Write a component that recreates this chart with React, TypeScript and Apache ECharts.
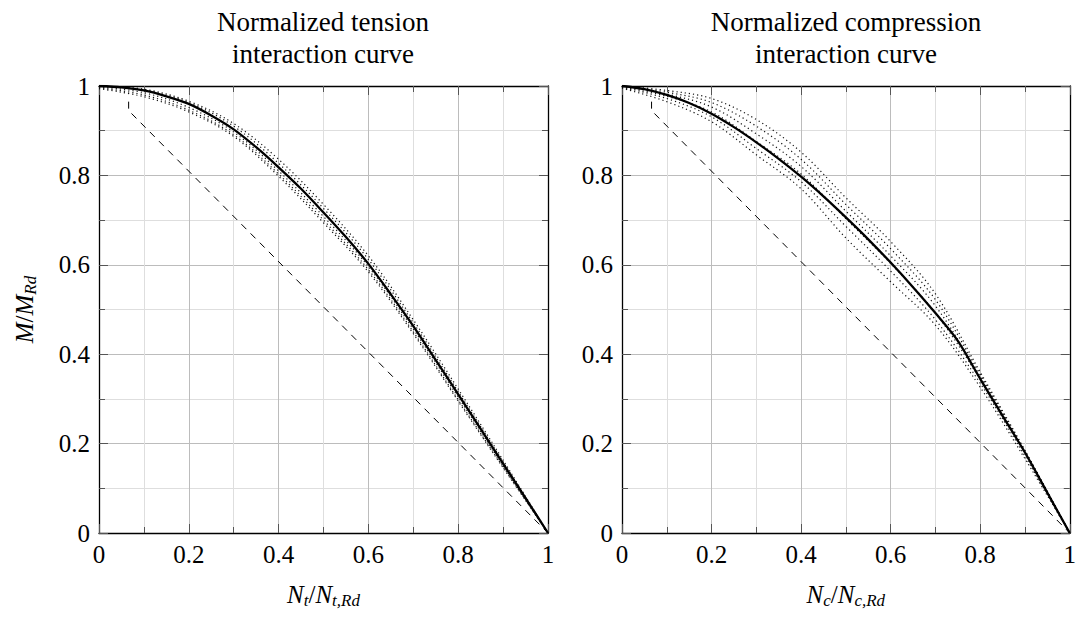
import { useEffect, useRef } from 'react';
import * as echarts from 'echarts';

// ---------- data ----------
const xFine = [0, 0.05, 0.1, 0.15, 0.2, 0.25, 0.3, 0.35, 0.4, 0.45, 0.5, 0.55, 0.6, 0.65, 0.7, 0.75, 0.8, 0.85, 0.9, 0.95, 1];
const xCoarse = [0, 0.1, 0.2, 0.3, 0.4, 0.5, 0.6, 0.7, 0.8, 0.9, 1];

const tensionSolid = [1, 0.997, 0.99, 0.977, 0.96, 0.934, 0.903, 0.863, 0.818, 0.77, 0.717, 0.662, 0.602, 0.534, 0.463, 0.387, 0.31, 0.233, 0.155, 0.078, 0];
const compressionSolid = [1, 0.993, 0.98, 0.962, 0.938, 0.908, 0.874, 0.837, 0.797, 0.753, 0.706, 0.657, 0.605, 0.55, 0.492, 0.43, 0.345, 0.262, 0.18, 0.09, 0];

const tensionDotA = [1, 0.993, 0.966, 0.916, 0.836, 0.735, 0.62, 0.477, 0.322, 0.163, 0];
const tensionDotB = [1, 0.991, 0.963, 0.91, 0.827, 0.726, 0.612, 0.47, 0.316, 0.159, 0];
const tensionDotC = [0.998, 0.985, 0.952, 0.897, 0.81, 0.708, 0.596, 0.456, 0.304, 0.151, 0];
const tensionDotD = [0.996, 0.98, 0.946, 0.891, 0.803, 0.7, 0.589, 0.45, 0.298, 0.148, 0];
const tensionDotE = [0.994, 0.976, 0.942, 0.887, 0.798, 0.694, 0.584, 0.446, 0.295, 0.146, 0];

const compDotA = [1, 0.99, 0.972, 0.925, 0.852, 0.75, 0.652, 0.535, 0.36, 0.185, 0];
const compDotB = [1, 0.986, 0.963, 0.91, 0.836, 0.735, 0.636, 0.522, 0.355, 0.183, 0];
const compDotC = [1, 0.982, 0.953, 0.893, 0.82, 0.72, 0.62, 0.508, 0.35, 0.181, 0];
const compDotD = [0.998, 0.977, 0.942, 0.876, 0.803, 0.703, 0.603, 0.492, 0.344, 0.178, 0];
const compDotE = [0.997, 0.972, 0.931, 0.86, 0.786, 0.686, 0.586, 0.477, 0.335, 0.172, 0];
const compDotF = [0.995, 0.965, 0.92, 0.846, 0.77, 0.66, 0.562, 0.465, 0.326, 0.166, 0];

const dashedX = [0.066, 0.066, 1];
const dashedY = [0.965, 0.945, 0];

const titles = ['Normalized tension\ninteraction curve', 'Normalized compression\ninteraction curve'];
const xNames = ['{i|N}{s|t}{r|/}{i|N}{s|t,Rd}', '{i|N}{s|c}{r|/}{i|N}{s|c,Rd}'];
const yName = '{i|M}{r|/}{i|M}{s|Rd}';

// ---------- styling ----------
const FONT = '"Liberation Serif", serif';
const rich = {
  i: { fontFamily: FONT, fontStyle: 'italic', fontSize: 25, color: '#000', lineHeight: 30 },
  r: { fontFamily: FONT, fontSize: 25, color: '#000', lineHeight: 30 },
  s: { fontFamily: FONT, fontStyle: 'italic', fontSize: 17, color: '#000', lineHeight: 17, padding: [13, 0, 0, 0] },
};

const pairs = (xs: number[], ys: number[]) => xs.map((x, k) => [x, ys[k]]);

function baseAxis(gridIndex: number, position: string, labels: boolean, extra: any = {}) {
  return {
    type: 'value',
    gridIndex,
    position,
    min: 0,
    max: 1,
    interval: 0.2,
    axisLine: { show: true, onZero: false, lineStyle: { color: '#000', width: 1.3 } },
    axisTick: { show: true, inside: true, length: 9, lineStyle: { color: '#555', width: 1 } },
    minorTick: { show: true, splitNumber: 2, length: 6, lineStyle: { color: '#555', width: 1 } },
    splitLine: { show: labels, lineStyle: { color: '#bcbcbc', width: 1 } },
    minorSplitLine: { show: labels, lineStyle: { color: '#dedede', width: 1 } },
    axisLabel: {
      show: labels,
      fontFamily: FONT,
      fontSize: 25,
      color: '#000',
      margin: 9,
    },
    ...extra,
  };
}

export default function App() {
  const ref = useRef<HTMLDivElement>(null);
  useEffect(() => {
    if (!ref.current) return;
    const chart = echarts.init(ref.current, null, { renderer: 'svg' });
    const dotted = (xi: number, ys: number[]) => ({
      type: 'line',
      xAxisIndex: xi,
      yAxisIndex: xi,
      data: pairs(xCoarse, ys),
      smooth: 0.35,
      showSymbol: false,
      lineStyle: { color: '#111', width: 1.2, type: [1.2, 3] },
      z: 3,
    });
    const solid = (xi: number, ys: number[]) => ({
      type: 'line',
      xAxisIndex: xi,
      yAxisIndex: xi,
      data: pairs(xFine, ys),
      smooth: 0.3,
      showSymbol: false,
      lineStyle: { color: '#000', width: 2.3 },
      z: 5,
    });
    const dashed = (xi: number) => ({
      type: 'line',
      xAxisIndex: xi,
      yAxisIndex: xi,
      data: pairs(dashedX, dashedY),
      showSymbol: false,
      lineStyle: { color: '#000', width: 1, type: [7, 6] },
      z: 4,
    });

    const option: any = {
      animation: false,
      backgroundColor: '#fff',
      grid: [
        { left: 99, top: 86, width: 449, height: 447 },
        { left: 622, top: 86, width: 448, height: 447 },
      ],
      xAxis: [
        baseAxis(0, 'bottom', true, {
          name: xNames[0], nameLocation: 'middle', nameGap: 46,
          nameTextStyle: { rich },
        }),
        baseAxis(1, 'bottom', true, {
          name: xNames[1], nameLocation: 'middle', nameGap: 46,
          nameTextStyle: { rich },
        }),
        baseAxis(0, 'top', false),
        baseAxis(1, 'top', false),
      ],
      yAxis: [
        baseAxis(0, 'left', true, {
          name: yName, nameLocation: 'middle', nameGap: 60,
          nameTextStyle: { rich },
        }),
        baseAxis(1, 'left', true),
        baseAxis(0, 'right', false),
        baseAxis(1, 'right', false),
      ],
      graphic: [
        {
          type: 'text', left: 323 - 150, top: 6,
          style: { text: titles[0], width: 300, align: 'center', textAlign: 'center', font: `27px ${FONT}`, lineHeight: 32, fill: '#000', x: 150 },
        },
        {
          type: 'text', left: 846 - 150, top: 6,
          style: { text: titles[1], width: 300, align: 'center', textAlign: 'center', font: `27px ${FONT}`, lineHeight: 32, fill: '#000', x: 150 },
        },
      ],
      series: [
        dotted(0, tensionDotA),
        dotted(0, tensionDotB),
        dotted(0, tensionDotC),
        dotted(0, tensionDotD),
        dotted(0, tensionDotE),
        dashed(0),
        solid(0, tensionSolid),
        dotted(1, compDotA),
        dotted(1, compDotB),
        dotted(1, compDotC),
        dotted(1, compDotD),
        dotted(1, compDotE),
        dotted(1, compDotF),
        dashed(1),
        solid(1, compressionSolid),
      ],
    };
    chart.setOption(option);
    return () => chart.dispose();
  }, []);
  return <div ref={ref} style={{ position: 'fixed', left: 0, top: 0, width: 1079, height: 619, background: '#fff' }} />;
}
